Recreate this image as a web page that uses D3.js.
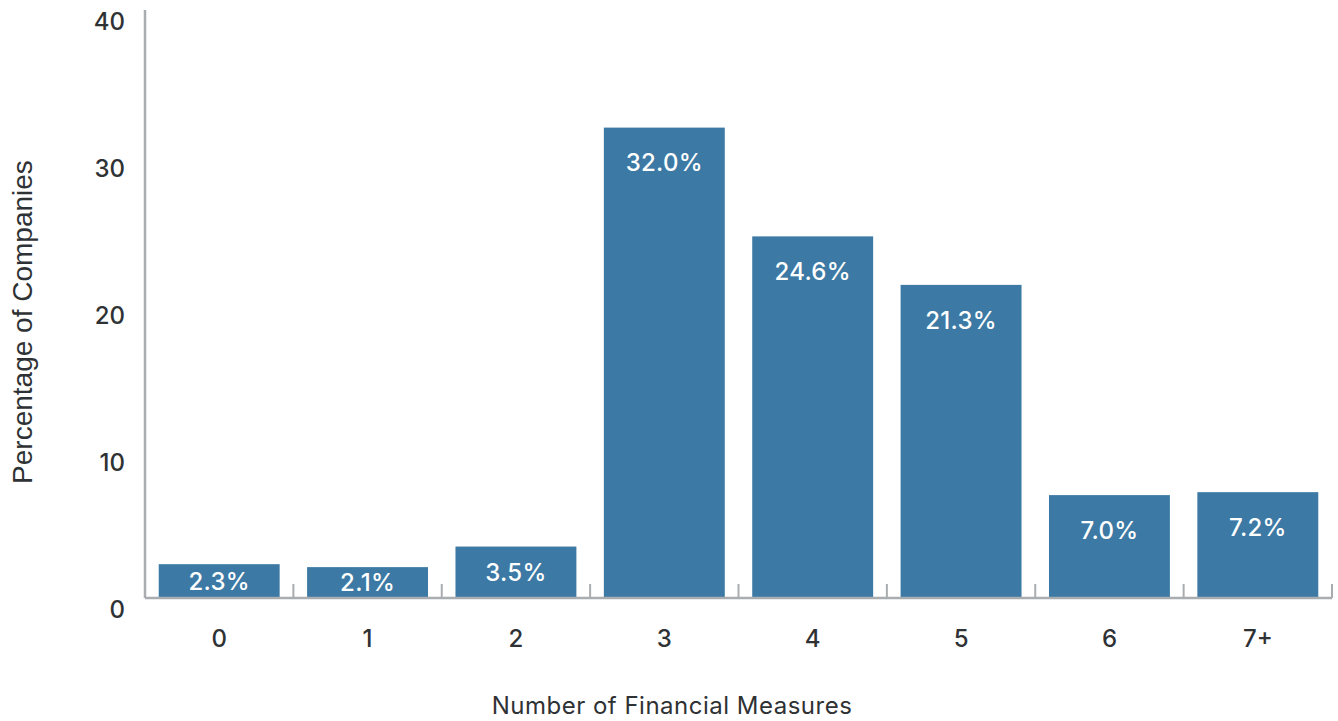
<!DOCTYPE html>
<html>
<head>
<meta charset="utf-8">
<script src="https://cdn.jsdelivr.net/npm/d3@7"></script>
<style>
  html, body { margin: 0; padding: 0; background: #ffffff; }
  svg { display: block; }
</style>
</head>
<body>
<svg id="chart" width="1338" height="721"></svg>
<script>
// Share of companies by number of financial measures used
const categories = ["0", "1", "2", "3", "4", "5", "6", "7+"];
const shares = [2.3, 2.1, 3.5, 32.0, 24.6, 21.3, 7.0, 7.2];
const yTicks = [0, 10, 20, 30, 40];
const xTitle = "Number of Financial Measures";
const yTitle = "Percentage of Companies";

const W = 1338, H = 721;
const margin = { top: 10, right: 6, bottom: 123, left: 145 };
const plotW = W - margin.left - margin.right;
const plotH = H - margin.top - margin.bottom;

const barColor = "#3c79a4";
const axisColor = "#a9adb0";
const textColor = "#2f3234";
const uiFont = "Inter, 'Noto Sans', sans-serif";

const svg = d3.select("#chart");
const g = svg.append("g").attr("transform", `translate(${margin.left},${margin.top})`);

const x = d3.scaleBand().domain(categories).range([0, plotW]).paddingInner(0.185).paddingOuter(0.0925);
const y = d3.scaleLinear().domain([0, 40]).range([plotH, 0]);

const data = categories.map((c, i) => ({ cat: c, v: shares[i] }));

// bars
g.selectAll("rect.bar").data(data).join("rect")
  .attr("class", "bar")
  .attr("x", d => x(d.cat))
  .attr("y", d => y(d.v))
  .attr("width", x.bandwidth())
  .attr("height", d => y(0) - y(d.v))
  .attr("fill", barColor);

// value labels: near the top of tall bars, centred in short ones
g.selectAll("text.val").data(data).join("text")
  .attr("class", "val")
  .attr("x", d => x(d.cat) + x.bandwidth() / 2)
  .attr("y", d => Math.min(y(d.v) + 35, (y(d.v) + y(0)) / 2))
  .attr("dy", "0.36em")
  .attr("text-anchor", "middle")
  .attr("fill", "#ffffff")
  .style("font-family", uiFont)
  .style("font-size", "24px")
  .style("font-weight", 500)
  .style("letter-spacing", "0.3px")
  .text(d => d.v.toFixed(1) + "%");

// y axis line and labels
g.append("line")
  .attr("x1", 0).attr("x2", 0)
  .attr("y1", y(40)).attr("y2", y(0))
  .attr("stroke", axisColor).attr("stroke-width", 2.5);

g.selectAll("text.ytick").data(yTicks).join("text")
  .attr("class", "ytick")
  .attr("x", -20)
  .attr("y", d => y(d) + 11)
  .attr("dy", "0.36em")
  .attr("text-anchor", "end")
  .attr("fill", textColor)
  .style("font-family", uiFont)
  .style("font-size", "24px")
  .style("font-weight", 500)
  .text(d => d);

// x axis baseline with separators between categories
g.append("line")
  .attr("x1", 0).attr("x2", plotW)
  .attr("y1", y(0)).attr("y2", y(0))
  .attr("stroke", axisColor).attr("stroke-width", 2.5);

const bounds = categories.map((c, i) => x(c) + x.bandwidth() + x.step() * x.paddingInner() / 2);
bounds[bounds.length - 1] = plotW;
g.selectAll("line.sep").data(bounds).join("line")
  .attr("class", "sep")
  .attr("x1", d => d).attr("x2", d => d)
  .attr("y1", y(0)).attr("y2", y(0) - 14)
  .attr("stroke", axisColor).attr("stroke-width", 2);

g.selectAll("text.xtick").data(categories).join("text")
  .attr("class", "xtick")
  .attr("x", d => x(d) + x.bandwidth() / 2)
  .attr("y", y(0) + 40)
  .attr("dy", "0.36em")
  .attr("text-anchor", "middle")
  .attr("fill", textColor)
  .style("font-family", uiFont)
  .style("font-size", "24px")
  .style("font-weight", 500)
  .text(d => d);

// axis titles
svg.append("text")
  .attr("x", 672)
  .attr("y", 714)
  .attr("text-anchor", "middle")
  .attr("fill", textColor)
  .style("font-family", uiFont)
  .style("font-size", "24px")
  .style("font-weight", 400)
  .style("letter-spacing", "0.5px")
  .text(xTitle);

svg.append("text")
  .attr("transform", `translate(32,${322}) rotate(-90)`)
  .attr("text-anchor", "middle")
  .attr("fill", textColor)
  .style("font-family", "'Liberation Sans', Arial, sans-serif")
  .style("font-size", "28px")
  .text(yTitle);
</script>
</body>
</html>
